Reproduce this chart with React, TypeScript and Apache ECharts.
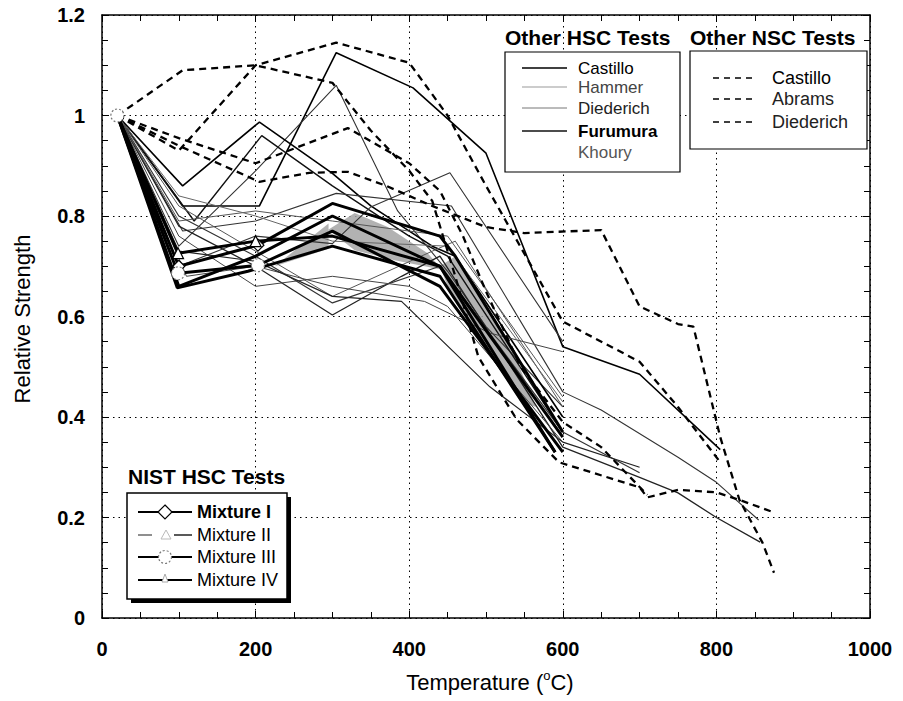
import React, { useEffect, useRef } from "react";
import * as echarts from "echarts";

const FONT = '"Liberation Sans", Arial, Helvetica, sans-serif';

// Axis ticks
const xTicks = [0, 200, 400, 600, 800, 1000];
const yTicks = [0, 0.2, 0.4, 0.6, 0.8, 1.0, 1.2];

// ---- Other NSC tests (dashed) ----
const nscCastilloA = [[20, 1.0], [100, 0.93], [200, 1.10], [305, 1.145], [400, 1.105], [450, 1.0], [500, 0.86], [600, 0.59], [700, 0.51], [750, 0.42], [805, 0.31]];
const nscCastilloB = [[20, 1.0], [105, 1.09], [200, 1.10], [300, 1.065], [350, 0.97], [400, 0.89], [430, 0.83], [460, 0.68], [490, 0.52], [540, 0.395], [595, 0.31], [700, 0.26], [710, 0.24], [750, 0.255], [800, 0.25], [830, 0.235], [875, 0.21]];
const nscAbrams = [[20, 1.0], [100, 0.94], [205, 0.868], [270, 0.886], [320, 0.888], [370, 0.86], [430, 0.82], [500, 0.778], [550, 0.766], [650, 0.772], [700, 0.62], [750, 0.585], [770, 0.58], [805, 0.36], [830, 0.235], [860, 0.15], [875, 0.09]];
const nscDiederich = [[20, 1.0], [100, 0.955], [200, 0.905], [320, 0.975], [400, 0.905], [440, 0.85], [470, 0.76], [500, 0.65], [545, 0.5], [600, 0.39], [650, 0.34], [710, 0.245]];

// ---- Other HSC tests (solid) ----
const hscCastillo1 = [[20, 1.0], [105, 0.82], [205, 0.82], [305, 1.125], [405, 1.055], [500, 0.925], [600, 0.54], [700, 0.485], [805, 0.335]];
const hscHammer1 = [[20, 1.0], [100, 0.74], [200, 0.89], [305, 1.06], [385, 0.81], [450, 0.69], [500, 0.58], [600, 0.42]];
const hscCastillo2 = [[20, 1.0], [105, 0.86], [205, 0.987], [300, 0.885], [350, 0.82], [430, 0.74], [460, 0.72], [600, 0.40]];
const hscCastillo3 = [[20, 1.0], [120, 0.79], [208, 0.96], [300, 0.86], [400, 0.76], [450, 0.72], [600, 0.37]];
const hscDiederich1 = [[20, 1.0], [105, 0.77], [200, 0.79], [305, 0.845], [455, 0.82], [600, 0.45], [650, 0.414], [750, 0.32], [800, 0.27], [855, 0.195]];
const hscFurumura1 = [[20, 1.0], [100, 0.78], [200, 0.70], [300, 0.603], [390, 0.68], [440, 0.72], [600, 0.34], [700, 0.28], [750, 0.249], [800, 0.20], [857, 0.151]];
const hscFurumura2 = [[20, 1.0], [100, 0.80], [200, 0.72], [300, 0.627], [440, 0.70], [600, 0.37], [700, 0.289]];
const hscHammer2 = [[20, 1.0], [100, 0.82], [200, 0.73], [300, 0.64], [430, 0.73], [460, 0.75], [600, 0.42]];
const hscDiederich2 = [[20, 1.0], [100, 0.76], [200, 0.66], [300, 0.68], [400, 0.66], [450, 0.62], [600, 0.35]];
const hscHammer3 = [[20, 1.0], [100, 0.70], [200, 0.76], [300, 0.745], [350, 0.818], [453, 0.886], [530, 0.71], [600, 0.55]];
const hscKhoury1 = [[20, 1.0], [110, 0.68], [200, 0.70], [300, 0.66], [420, 0.63], [505, 0.567], [600, 0.53]];
const hscFurumura3 = [[20, 1.0], [100, 0.73], [200, 0.71], [300, 0.64], [390, 0.63], [505, 0.46], [600, 0.35], [700, 0.30]];
const hscDiederich3 = [[20, 1.0], [100, 0.79], [200, 0.81], [300, 0.79], [450, 0.76], [600, 0.44]];
const hscKhoury2 = [[20, 1.0], [100, 0.84], [200, 0.80], [300, 0.75], [450, 0.74], [600, 0.43]];

// ---- NIST HSC tests (thick, with markers) ----
const nistMix1a = [[20, 1.0], [100, 0.70], [203, 0.742], [300, 0.825], [440, 0.76], [460, 0.72], [600, 0.37]];
const nistMix1b = [[20, 1.0], [100, 0.66], [200, 0.72], [300, 0.80], [440, 0.70], [590, 0.33]];
const nistMix2 = [[20, 1.0], [99, 0.726], [200, 0.75], [300, 0.76], [440, 0.70], [600, 0.36]];
const nistMix3 = [[20, 1.0], [99, 0.686], [203, 0.702], [300, 0.77], [440, 0.66], [600, 0.33]];
const nistMix4 = [[20, 1.0], [98, 0.657], [190, 0.69], [300, 0.74], [440, 0.68], [590, 0.33]];

// ---- NIST scatter envelopes (stippled areas) ----
const shadeA = [[225, 0.70], [295, 0.785], [295, 0.735]];
const shadeB = [[294, 0.772], [329, 0.806], [372, 0.778], [424, 0.726], [443, 0.693], [381, 0.712], [329, 0.732], [307, 0.758]];
const shadeC = [[440, 0.70], [460, 0.72], [530, 0.55], [565, 0.42], [545, 0.43], [470, 0.61], [450, 0.66]];
const shades = [shadeA, shadeB, shadeC];

const nscSeries = [nscCastilloA, nscCastilloB, nscAbrams, nscDiederich];
const hscSeries = [
  { d: hscCastillo1, c: "#000", w: 1.6 },
  { d: hscHammer1, c: "#333", w: 1.1 },
  { d: hscCastillo2, c: "#000", w: 1.6 },
  { d: hscCastillo3, c: "#111", w: 1.4 },
  { d: hscDiederich1, c: "#333", w: 1.1 },
  { d: hscFurumura1, c: "#222", w: 1.3 },
  { d: hscFurumura2, c: "#333", w: 1.2 },
  { d: hscHammer2, c: "#555", w: 1.0 },
  { d: hscDiederich2, c: "#444", w: 1.0 },
  { d: hscHammer3, c: "#333", w: 1.1 },
  { d: hscKhoury1, c: "#444", w: 1.0 },
  { d: hscFurumura3, c: "#222", w: 1.2 },
  { d: hscDiederich3, c: "#555", w: 1.0 },
  { d: hscKhoury2, c: "#666", w: 1.0 },
];
const nistSeries = [
  { d: nistMix1a, sym: "diamond", size: 12, dash: false },
  { d: nistMix1b, sym: "none", size: 0, dash: false },
  { d: nistMix2, sym: "triangle", size: 11, dash: false },
  { d: nistMix3, sym: "circle", size: 13, dash: true },
  { d: nistMix4, sym: "none", size: 0, dash: false },
];

function buildOption() {
  const series: any[] = [];
  series.push({
    type: "custom",
    z: 1,
    silent: true,
    renderItem: (params: any, api: any) => {
      const poly = shades[params.dataIndex];
      return {
        type: "polygon",
        shape: { points: poly.map((p) => api.coord(p)) },
        style: { fill: "#a4a4a4", opacity: 0.85 },
      };
    },
    data: shades.map((s) => s[0]),
  });
  hscSeries.forEach((s) =>
    series.push({
      type: "line",
      data: s.d,
      symbol: "none",
      z: 3,
      lineStyle: { color: s.c, width: s.w },
    })
  );
  nscSeries.forEach((d) =>
    series.push({
      type: "line",
      data: d,
      symbol: "none",
      z: 4,
      lineStyle: { color: "#000", width: 2.3, type: [7, 5] },
    })
  );
  nistSeries.forEach((s) =>
    series.push({
      type: "line",
      z: 5,
      data: s.d.map((p) => ({
        value: p,
        symbol: s.sym !== "none" && p[0] >= 95 && p[0] <= 210 ? s.sym : p[0] === 20 && s.sym === "circle" ? "circle" : "none",
      })),
      symbolSize: s.size,
      showAllSymbol: true,
      lineStyle: { color: "#000", width: 3 },
      itemStyle: {
        color: "#fff",
        borderColor: s.dash ? "#777" : "#000",
        borderWidth: 1.2,
        borderType: s.dash ? [2, 2] : "solid",
      },
    })
  );

  const baseAxisLine = { show: true, onZero: false, lineStyle: { color: "#000", width: 1.5 } };
  const tick = { show: true, inside: true, length: 7, lineStyle: { color: "#000", width: 1 } };
  const minor = { show: true, splitNumber: 4, length: 6, lineStyle: { color: "#000", width: 1 } };
  const dotted = { show: true, lineStyle: { color: "#000", width: 1, type: [1.5, 4] } };
  const fmtY = (v: number) => String(Math.round(v * 10) / 10);
  const fmtX = (v: number) => String(Math.round(v));

  const graphic: any[] = [];
  const T = (text: string, x: number, y: number, size: number, bold: boolean, fill = "#000") => ({
    type: "text",
    x,
    y,
    z: 100,
    style: { text, fontSize: size, fontWeight: bold ? "bold" : "normal", fontFamily: FONT, fill, align: "left", verticalAlign: "middle", lineHeight: size },
  });
  const L = (x1: number, y1: number, x2: number, y2: number, stroke: string, w: number, dash: any = null) => ({
    type: "line",
    z: 100,
    shape: { x1, y1, x2, y2 },
    style: { stroke, lineWidth: w, lineDash: dash },
  });

  // axis titles
  graphic.push({
    type: "text",
    x: 490,
    y: 682,
    z: 100,
    style: {
      text: "Temperature ({s|o}C)",
      fontSize: 22,
      fontFamily: FONT,
      fill: "#000",
      align: "center",
      verticalAlign: "middle",
      rich: { s: { fontSize: 13, fontFamily: FONT, fill: "#000", verticalAlign: "top", lineHeight: 26 } },
    },
  });
  graphic.push({
    type: "text",
    x: 22,
    y: 319,
    rotation: Math.PI / 2,
    z: 100,
    style: { text: "Relative Strength", fontSize: 22, fontFamily: FONT, fill: "#000", align: "center", verticalAlign: "middle" },
  });

  // Other HSC Tests legend
  graphic.push(T("Other HSC Tests", 505, 37, 21, true));
  graphic.push({ type: "rect", z: 99, shape: { x: 505, y: 52, width: 175, height: 120 }, style: { fill: "#fff", stroke: "#000", lineWidth: 1.2 } });
  const hscLeg = [
    { t: "Castillo", y: 68, c: "#000", lc: "#000", lw: 1.5, b: false },
    { t: "Hammer", y: 87, c: "#444", lc: "#999", lw: 1, b: false },
    { t: "Diederich", y: 108, c: "#222", lc: "#777", lw: 1, b: false },
    { t: "Furumura", y: 131, c: "#000", lc: "#111", lw: 1.5, b: true },
    { t: "Khoury", y: 152, c: "#555", lc: null, lw: 0, b: false },
  ];
  hscLeg.forEach((e) => {
    if (e.lc) graphic.push(L(522, e.y, 567, e.y, e.lc, e.lw));
    graphic.push(T(e.t, 578, e.y, 17, e.b, e.c));
  });

  // Other NSC Tests legend
  graphic.push(T("Other NSC Tests", 690, 37, 21, true));
  graphic.push({ type: "rect", z: 99, shape: { x: 690, y: 51, width: 177, height: 98 }, style: { fill: "#fff", stroke: "#000", lineWidth: 1.2 } });
  const nscLeg = [
    { t: "Castillo", y: 78, c: "#000" },
    { t: "Abrams", y: 99, c: "#222" },
    { t: "Diederich", y: 122, c: "#222" },
  ];
  nscLeg.forEach((e) => {
    graphic.push(L(713, e.y, 756, e.y, "#000", 1.6, [6, 5]));
    graphic.push(T(e.t, 772, e.y, 18, false, e.c));
  });

  // NIST legend
  graphic.push(T("NIST HSC Tests", 128, 476, 21, true));
  graphic.push({ type: "rect", z: 98, shape: { x: 131, y: 497, width: 160, height: 106 }, style: { fill: "#000" } });
  graphic.push({ type: "rect", z: 99, shape: { x: 127, y: 493, width: 160, height: 106 }, style: { fill: "#fff", stroke: "#000", lineWidth: 1.5 } });
  const nistLeg = [
    { t: "Mixture I", y: 512, b: true },
    { t: "Mixture II", y: 535, b: false },
    { t: "Mixture III", y: 557, b: false },
    { t: "Mixture IV", y: 580, b: false },
  ];
  nistLeg.forEach((e, i) => {
    if (i === 1) {
      graphic.push(L(138, e.y, 152, e.y, "#444", 1.2));
      graphic.push(L(174, e.y, 192, e.y, "#222", 1.5));
    } else {
      graphic.push(L(138, e.y, 192, e.y, "#000", 2));
    }
    graphic.push(T(e.t, 197, e.y, 18, e.b, "#000"));
  });
  graphic.push({ type: "polygon", z: 101, shape: { points: [[165, 505], [172, 512], [165, 519], [158, 512]] }, style: { fill: "#fff", stroke: "#000", lineWidth: 1.2 } });
  graphic.push({ type: "polygon", z: 101, shape: { points: [[166, 530], [171, 539], [161, 539]] }, style: { fill: "#fff", stroke: "#bbb", lineWidth: 1 } });
  graphic.push({ type: "circle", z: 101, shape: { cx: 165, cy: 557, r: 6.5 }, style: { fill: "#fff", stroke: "#777", lineWidth: 1.2, lineDash: [2, 2] } });
  graphic.push({ type: "polygon", z: 101, shape: { points: [[165, 574], [168, 582], [162, 582]] }, style: { fill: "#fff", stroke: "#aaa", lineWidth: 1 } });

  return {
    animation: false,
    backgroundColor: "#fff",
    grid: { left: 102, right: 33, top: 15, bottom: 83, containLabel: false },
    xAxis: [
      {
        type: "value",
        min: xTicks[0],
        max: xTicks[xTicks.length - 1],
        interval: 200,
        position: "bottom",
        axisLine: baseAxisLine,
        axisTick: tick,
        minorTick: minor,
        splitLine: dotted,
        axisLabel: { fontSize: 20, fontWeight: "bold", fontFamily: FONT, color: "#000", margin: 21, formatter: fmtX },
      },
      {
        type: "value",
        min: xTicks[0],
        max: xTicks[xTicks.length - 1],
        interval: 200,
        position: "top",
        axisLine: baseAxisLine,
        axisTick: tick,
        minorTick: minor,
        splitLine: { show: false },
        axisLabel: { show: false },
      },
    ],
    yAxis: [
      {
        type: "value",
        min: yTicks[0],
        max: yTicks[yTicks.length - 1],
        interval: 0.2,
        position: "left",
        axisLine: baseAxisLine,
        axisTick: tick,
        minorTick: minor,
        splitLine: dotted,
        axisLabel: { fontSize: 20, fontWeight: "bold", fontFamily: FONT, color: "#000", margin: 17, formatter: fmtY },
      },
      {
        type: "value",
        min: yTicks[0],
        max: yTicks[yTicks.length - 1],
        interval: 0.2,
        position: "right",
        axisLine: baseAxisLine,
        axisTick: tick,
        minorTick: minor,
        splitLine: { show: false },
        axisLabel: { show: false },
      },
    ],
    series,
    graphic,
  };
}

export default function App() {
  const ref = useRef<HTMLDivElement>(null);
  useEffect(() => {
    if (!ref.current) return;
    const chart = echarts.init(ref.current, null, { renderer: "svg" });
    chart.setOption(buildOption() as any);
    return () => chart.dispose();
  }, []);
  return (
    <div
      ref={ref}
      style={{ position: "fixed", left: 0, top: 0, width: 903, height: 701, background: "#fff" }}
    />
  );
}
